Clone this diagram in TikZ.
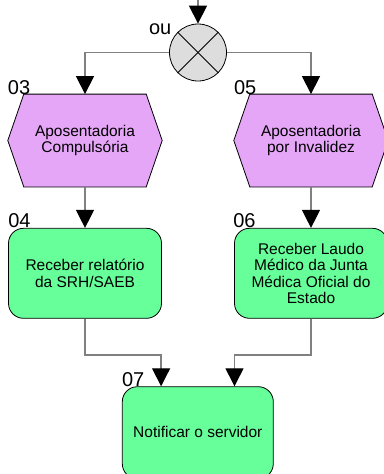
\documentclass[tikz,border=0pt]{standalone}
\usepackage{fontspec}
\setmainfont{Liberation Sans}
\usetikzlibrary{arrows.meta,backgrounds}
\definecolor{lav}{HTML}{E6A6F8}
\definecolor{mint}{HTML}{66FF99}
\definecolor{xorgray}{HTML}{DDDDDD}
\definecolor{wire}{HTML}{808080}

\begin{document}
\begin{tikzpicture}[x=1pt,y=-1pt,
  conn/.style={draw=wire,line width=1.3pt,
    -{Triangle[length=18pt,width=18pt,color=black,fill=black]}},
  body/.style={font=\fontsize{15.5pt}{16.5pt}\selectfont,align=center,inner sep=0pt},
  hexnode/.style={body,rectangle,minimum width=154pt,minimum height=92.4pt},
  hexline/.style={draw=black,line width=0.8pt,fill=lav},
  taskbox/.style={body,rectangle,rounded corners=15pt,draw=black,line width=0.8pt,
    fill=mint,minimum width=153pt,minimum height=90pt},
  lbl/.style={font=\fontsize{20pt}{24pt}\selectfont,inner sep=0pt},
  xor/.style={circle,draw=black,line width=0.8pt,fill=xorgray,minimum size=57pt,inner sep=0pt}
]
\useasboundingbox (0,0) rectangle (383,474);

% XOR connector
\coordinate (top) at (198,0);
\node[xor] (or) at (198,52.5) {};
\draw[line width=0.8pt] (or.45) -- (or.225);
\draw[line width=0.8pt] (or.135) -- (or.-45);
\node[lbl,anchor=base east] (ou) at (171.5,34) {ou};

% events (hexagons)
\node[hexnode] (h03) at (85,140.5) {Aposentadoria\\Compulsória};
\node[hexnode] (h05) at (311,140.5) {Aposentadoria\\por Invalidez};
\begin{scope}[on background layer]
  \foreach \h in {h03,h05}
    \draw[hexline] ([xshift=16pt]\h.north west) -- ([xshift=-16pt]\h.north east)
      -- (\h.east) -- ([xshift=-16pt]\h.south east)
      -- ([xshift=16pt]\h.south west) -- (\h.west) -- cycle;
\end{scope}

% functions (rounded boxes)
\node[taskbox] (b04) at (85,273.3) {Receber relatório\\da SRH/SAEB};
\node[taskbox] (b06) at (311,273.3) {Receber Laudo\\Médico da Junta\\Médica Oficial do\\Estado};
\node[taskbox,minimum width=151pt,minimum height=92pt] (b07) at (197.8,432.7) {\raisebox{1pt}{Notificar o servidor}};

% step numbers
\node[lbl,anchor=base west] (n03) at (h03.north west) {03};
\node[lbl,anchor=base west] (n05) at (h05.north west) {05};
\node[lbl,anchor=base west] (n04) at (b04.north west) {04};
\node[lbl,anchor=base west] (n06) at ([xshift=-1pt]b06.north west) {06};
\node[lbl,anchor=base west] (n07) at (b07.north west) {07};

% flow
\coordinate (j04) at (85,355);
\coordinate (j06) at (311,355);
\draw[conn] (top) -- (or.north);
\draw[conn] (or.west) -| (h03.north);
\draw[conn] (or.east) -| (h05.north);
\draw[conn] (h03.south) -- (b04.north);
\draw[conn] (h05.south) -- (b06.north);
\draw[conn] (b04.south) -- (j04) -| ([xshift=-36.7pt]b07.north);
\draw[conn] (b06.south) -- (j06) -| ([xshift=36.7pt]b07.north);
\end{tikzpicture}
\end{document}
